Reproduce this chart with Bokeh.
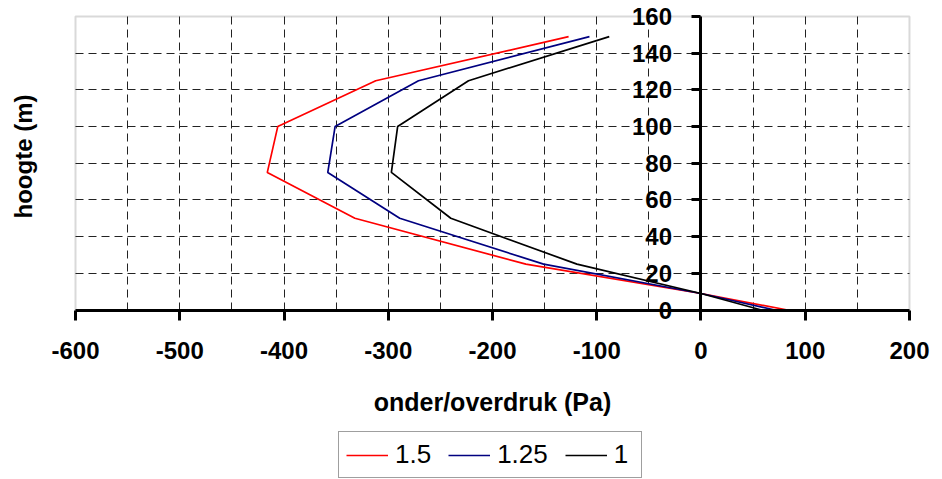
from bokeh.plotting import figure
from bokeh.models import (FixedTicker, Legend, LegendItem, Title, LinearAxis,
                          PrintfTickFormatter, BoxAnnotation, Range1d, Grid)
from bokeh.embed import file_html
from bokeh.resources import INLINE

# heights (m)
hoogte = [149, 125, 100, 75, 50, 25, 9, 0]

# pressure difference (Pa) per factor
druk_15 = [-127, -312, -406, -416, -332, -168, 0, 83]
druk_125 = [-107, -271, -351, -358, -289, -151, 0, 71]
druk_1 = [-88, -223, -291, -297, -240, -119, 0, 58]

series_labels = ["1.5", "1.25", "1"]
series_colors = ["#ff0000", "#000080", "#000000"]

x_ticks = [-600, -500, -400, -300, -200, -100, 0, 100, 200]
y_ticks = [0, 20, 40, 60, 80, 100, 120, 140, 160]
x_grid = [-550, -500, -450, -400, -350, -300, -250, -200, -150, -100, -50, 0, 50, 100, 150]
y_grid = [20, 40, 60, 80, 100, 120, 140]

X_MIN, X_MAX = -600, 200
Y_MIN, Y_MAX = 0, 160

FONT = "Liberation Sans"

# The frame reaches past the plotting box on all sides: the axes cross
# inside it at x = 0 and y = 0, and their labels and the legend sit in
# the extra room.
p = figure(
    frame_width=897, frame_height=478,
    x_range=Range1d(-629.74, 230.7), y_range=Range1d(-92.4, 168.18),
    x_axis_type=None, y_axis_type=None,
    output_backend="svg", toolbar_location=None,
    min_border_left=44, min_border_right=1, min_border_top=1,
    min_border_bottom=0,
)
p.background_fill_color = "white"
p.border_fill_color = "white"
p.outline_line_color = None

# plotting box
p.add_layout(BoxAnnotation(left=X_MIN, right=X_MAX, bottom=Y_MIN, top=Y_MAX,
                           fill_color=None, line_color="#808080",
                           line_width=2, level="underlay"))

# dashed grid inside the box
for dim, ticks, cross in ((0, x_grid, (Y_MIN, Y_MAX)), (1, y_grid, (X_MIN, X_MAX))):
    p.add_layout(Grid(dimension=dim, ticker=FixedTicker(ticks=ticks),
                      cross_bounds=cross, grid_line_color="#222222",
                      grid_line_width=1, grid_line_dash="8 5"))


def style_ticks(ax):
    ax.axis_line_width = 3
    ax.axis_line_color = "black"
    ax.major_tick_line_width = 3
    ax.major_tick_line_color = "black"
    ax.major_tick_in = 0
    ax.minor_tick_line_color = None
    ax.formatter = PrintfTickFormatter(format="%d")
    ax.major_label_text_color = "black"
    ax.major_label_text_font = FONT
    ax.major_label_text_font_style = "bold"
    ax.major_label_text_font_size = "24px"


# x axis along y = 0, with its title
xa = LinearAxis(ticker=FixedTicker(ticks=x_ticks), fixed_location=0,
                bounds=(X_MIN, X_MAX),
                axis_label="onder/overdruk (Pa)", axis_label_standoff=25,
                axis_label_text_color="black", axis_label_text_font=FONT,
                axis_label_text_font_style="bold",
                axis_label_text_font_size="25px")
style_ticks(xa)
xa.major_tick_out = 10
xa.major_label_standoff = 22
p.add_layout(xa, "below")

# y axis along x = 0
ya = LinearAxis(ticker=FixedTicker(ticks=y_ticks), fixed_location=0,
                bounds=(Y_MIN, Y_MAX))
style_ticks(ya)
ya.major_tick_out = 9
ya.major_label_standoff = 20
p.add_layout(ya, "left")

# y axis title, placed beside the plotting box
p.add_layout(Title(text="hoogte (m)", align="left", text_font=FONT,
                   text_font_style="bold", text_font_size="24px",
                   text_color="black", offset=261, standoff=15), "left")

items = []
for vals, lab, col in zip([druk_15, druk_125, druk_1], series_labels, series_colors):
    r = p.line(vals, hoogte, line_color=col, line_width=1.7)
    items.append(LegendItem(label=lab, renderers=[r]))

# legend under the axis title (offsets from the frame's bottom-left corner)
legend = Legend(items=items, orientation="horizontal", location=(294, 1),
                label_text_font=FONT, label_text_font_size="26px",
                label_text_color="black",
                border_line_color="#404040", border_line_width=1,
                background_fill_color="white",
                glyph_width=42, label_standoff=7, spacing=17,
                padding=7, margin=0)
p.add_layout(legend)

open("out.html", "w").write(file_html(p, INLINE))
